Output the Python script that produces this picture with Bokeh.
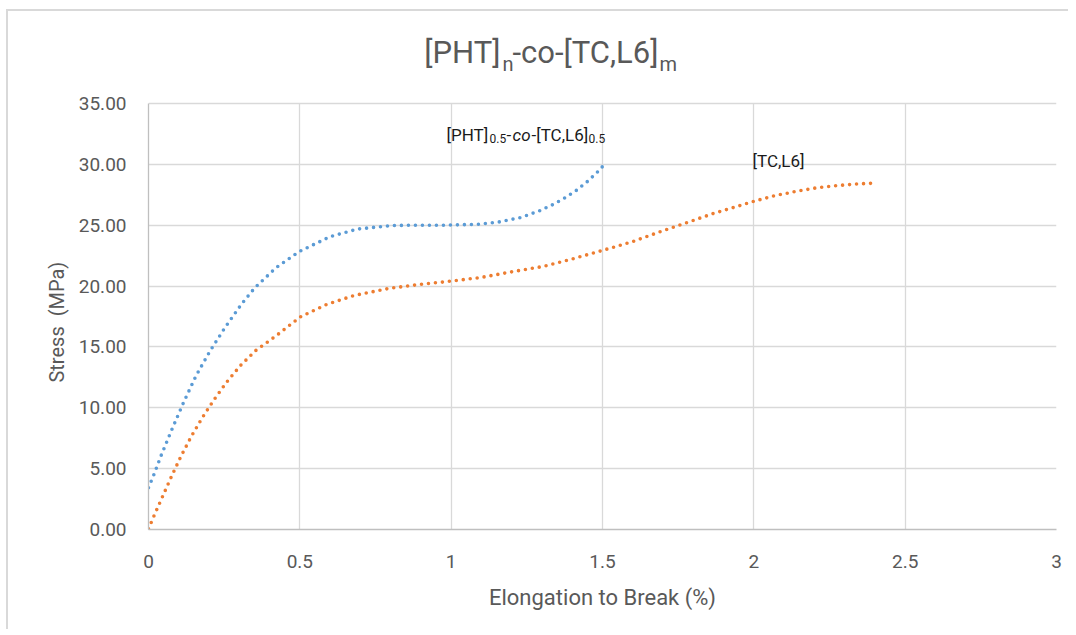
from bokeh.plotting import figure
from bokeh.models import Label, FixedTicker, PrintfTickFormatter, Range1d
from bokeh.embed import file_html
from bokeh.resources import INLINE

# ---- data ----
blend_x = [0.0, 0.018, 0.043, 0.079, 0.117, 0.157, 0.203, 0.253, 0.308, 0.352, 0.421, 0.498,
           0.601, 0.69, 0.805, 0.90, 0.974, 1.091, 1.161, 1.229, 1.292, 1.334, 1.374, 1.413,
           1.45, 1.482, 1.5]
blend_y = [3.43, 4.52, 6.16, 8.32, 10.5, 12.63, 14.65, 16.6, 18.54, 19.88, 21.5, 22.84,
           24.07, 24.68, 24.98, 25.0, 25.0, 25.08, 25.28, 25.63, 26.18, 26.67, 27.22, 27.85,
           28.59, 29.33, 29.82]

tc_x = [0.0, 0.02, 0.049, 0.078, 0.108, 0.142, 0.178, 0.217, 0.258, 0.303, 0.354, 0.421,
        0.502, 0.589, 0.678, 0.793, 0.91, 0.98, 1.097, 1.211, 1.304, 1.393, 1.485, 1.598,
        1.687, 1.777, 1.866, 1.955, 2.001, 2.068, 2.138, 2.207, 2.276, 2.348, 2.395]
tc_y = [0.05, 1.23, 2.85, 4.47, 6.05, 7.67, 9.2, 10.68, 12.1, 13.45, 14.7, 15.9,
        17.47, 18.49, 19.22, 19.8, 20.18, 20.35, 20.7, 21.22, 21.61, 22.18, 22.82, 23.64,
        24.43, 25.2, 25.96, 26.62, 26.97, 27.42, 27.77, 28.07, 28.26, 28.4, 28.45]

x_ticks = [0, 0.5, 1, 1.5, 2, 2.5, 3]
x_tick_labels = ["0", "0.5", "1", "1.5", "2", "2.5", "3"]
y_ticks = [0, 5, 10, 15, 20, 25, 30, 35]
Y_MAX = 35

FONT = "Roboto"
GREY = "#595959"

# the frame reaches above the 35 line so that the title (drawn as labels) is visible
PLOT_H = 426           # pixel height of the 0..35 region
FRAME_H = 509
y_top = Y_MAX * FRAME_H / PLOT_H

p = figure(frame_width=908, frame_height=FRAME_H,
           min_border_left=140, min_border_top=9, min_border_right=12, min_border_bottom=100,
           x_range=Range1d(0, 3), y_range=Range1d(0, y_top),
           output_backend="svg", toolbar_location=None)
p.styles = {"margin-left": "6px", "margin-top": "9px",
            "border-left": "2px solid #D9D9D9", "border-top": "2px solid #D9D9D9"}
p.outline_line_color = None
p.background_fill_color = "white"
p.border_fill_color = "white"

# grid
p.xgrid.ticker = FixedTicker(ticks=x_ticks)
p.ygrid.ticker = FixedTicker(ticks=y_ticks)
p.xgrid.cross_bounds = (0, Y_MAX)
for g in (p.xgrid, p.ygrid):
    g.grid_line_color = "#D9D9D9"
    g.grid_line_width = 1.3

# axes
p.xaxis.ticker = FixedTicker(ticks=x_ticks)
p.xaxis.major_label_overrides = {t: l for t, l in zip(x_ticks, x_tick_labels)}
p.yaxis.ticker = FixedTicker(ticks=y_ticks)
p.yaxis.bounds = (0, Y_MAX)
p.yaxis.formatter = PrintfTickFormatter(format="%.2f")
for ax in (p.xaxis, p.yaxis):
    ax.axis_line_color = "#BFBFBF"
    ax.axis_line_width = 1.3
    ax.major_tick_line_color = None
    ax.minor_tick_line_color = None
    ax.major_label_text_font = FONT
    ax.major_label_text_font_size = "19px"
    ax.major_label_text_color = GREY
    ax.axis_label_text_font = FONT
    ax.axis_label_text_font_style = "normal"
    ax.axis_label_text_color = GREY
p.xaxis.axis_label_text_font_size = "22px"
p.yaxis.axis_label_text_font_size = "20px"
p.xaxis.axis_label = "Elongation to Break (%)"
# trailing no-break spaces centre the label on the 0..35 part of the frame
p.yaxis.axis_label = "Stress\u00a0\u00a0(MPa)" + "\u00a0" * 19
p.xaxis.major_label_standoff = 19
p.yaxis.major_label_standoff = 16
p.xaxis.axis_label_standoff = 14
p.yaxis.axis_label_standoff = 7

# curves
p.line(blend_x, blend_y, line_color="#5B9BD5", line_width=3.6, line_dash="0 7", line_cap="round")
p.line(tc_x, tc_y, line_color="#ED7D31", line_width=3.6, line_dash="0 7", line_cap="round")

# text pieces, in pixels from the frame's bottom-left corner (y = visual centre)
def lab(x, y, text, size, color=GREY, style="normal", align="left"):
    p.add_layout(Label(x=x, y=y, x_units="screen", y_units="screen", text=text,
                       text_font=FONT, text_font_size=size, text_color=color,
                       text_font_style=style, text_align=align, text_baseline="middle"))

# title
lab(352, 477, "[PHT]", "31px", align="right")
lab(354, 466, "n", "20px")
lab(364, 477, "-co-[TC,L6]", "31px")
lab(511, 466, "m", "20px")

# annotations
ANN = "#1A1A1A"
lab(298, 395, "[PHT]", "17px", color=ANN)
lab(341, 391, "0.5", "12px", color=ANN)
lab(358, 395, "-", "17px", color=ANN)
lab(364, 395, "co", "17px", color=ANN, style="italic")
lab(383, 395, "-[TC,L6]", "17px", color=ANN)
lab(440, 391, "0.5", "12px", color=ANN)
lab(604, 369, "[TC,L6]", "17px", color=ANN)

open("out.html", "w").write(file_html(p, INLINE))
